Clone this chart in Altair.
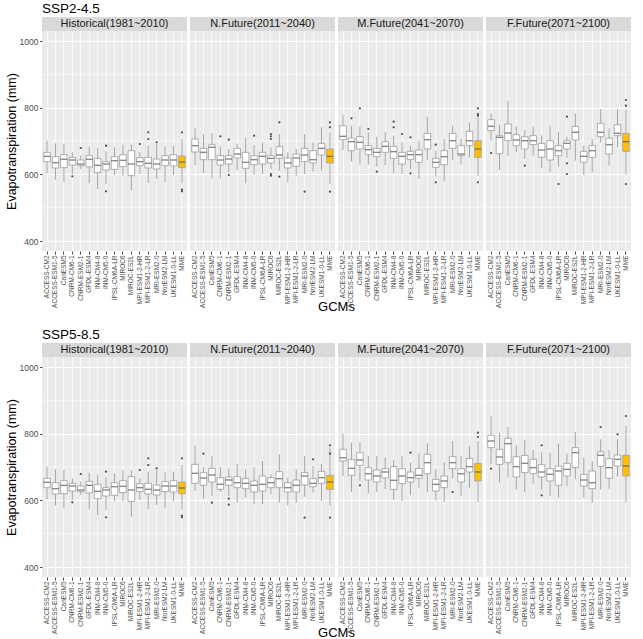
import altair as alt
import pandas as pd

# Models on the x axis (MME = multi-model ensemble)
GCMS = ["ACCESS-CM2", "ACCESS-ESM1-5", "CanESM5", "CNRM-CM6-1", "CNRM-ESM2-1",
        "GFDL-ESM4", "INM-CM4-8", "INM-CM5-0", "IPSL-CM6A-LR", "MIROC6",
        "MIROC-ES2L", "MPI-ESM1-2-HR", "MPI-ESM1-2-LR", "MRI-ESM2-0",
        "NorESM2-LM", "UKESM1-0-LL", "MME"]

PERIODS = ["Historical(1981~2010)", "N.Future(2011~2040)",
           "M.Future(2041~2070)", "F.Future(2071~2100)"]

# Box statistics per model: (lower whisker, Q1, median, Q3, upper whisker), mm
HIST = [(603, 638, 654, 666, 701), (584, 619, 635, 653, 693), (576, 620, 645, 659, 691),
        (601, 628, 643, 651, 666), (616, 626, 631, 643, 656), (573, 622, 645, 657, 683),
        (556, 605, 627, 648, 678), (571, 613, 631, 638, 669), (598, 615, 641, 653, 681),
        (597, 623, 642, 659, 689), (551, 596, 631, 671, 689), (601, 626, 638, 650, 666),
        (574, 619, 633, 651, 686), (586, 616, 631, 646, 691), (576, 626, 643, 656, 684),
        (598, 625, 643, 659, 686), (573, 620, 637, 655, 706)]
HIST_OUT = [(3, 594), (4, 679), (7, 686), (7, 549), (11, 691), (12, 726), (12, 706),
            (13, 696), (16, 726), (16, 554), (16, 549)]

SSP245_NF = [(628, 667, 686, 706, 738), (604, 644, 666, 678, 721), (588, 644, 681, 689, 724),
             (588, 628, 643, 656, 684), (606, 631, 646, 656, 676), (613, 649, 661, 678, 691),
             (573, 618, 636, 666, 711), (598, 629, 644, 656, 688), (601, 631, 654, 666, 696),
             (616, 634, 648, 656, 681), (611, 648, 658, 683, 721), (576, 619, 634, 649, 666),
             (596, 624, 649, 661, 676), (601, 638, 658, 678, 721), (608, 634, 644, 671, 696),
             (611, 658, 678, 693, 741), (571, 634, 654, 676, 726)]
SSP245_NF_OUT = [(3, 714), (4, 704), (4, 598), (7, 716), (9, 721), (9, 714), (9, 706),
                 (9, 601), (9, 596), (10, 756), (10, 593), (13, 548), (16, 756), (16, 741),
                 (16, 548)]

SSP245_MF = [(673, 704, 714, 746, 779), (639, 671, 698, 709, 746), (629, 676, 696, 713, 743),
             (629, 659, 674, 686, 726), (623, 653, 666, 678, 713), (628, 666, 684, 698, 728),
             (603, 648, 668, 684, 716), (601, 631, 654, 666, 696), (616, 645, 659, 669, 686),
             (586, 636, 659, 673, 701), (644, 676, 704, 723, 773), (593, 621, 636, 648, 671),
             (579, 629, 653, 671, 706), (643, 678, 701, 723, 746), (629, 656, 661, 686, 706),
             (651, 686, 701, 729, 756), (596, 651, 676, 701, 771)]
SSP245_MF_OUT = [(1, 768), (2, 798), (3, 736), (4, 608), (6, 758), (6, 741), (7, 721),
                 (8, 711), (8, 603), (11, 689), (11, 576), (16, 798), (16, 781), (16, 776),
                 (16, 576)]

SSP245_FF = [(701, 731, 744, 764, 783), (613, 662, 711, 716, 749), (656, 701, 724, 751, 821),
             (666, 686, 703, 719, 743), (646, 676, 701, 713, 733), (656, 689, 701, 716, 743),
             (619, 651, 673, 693, 716), (606, 643, 676, 701, 746), (623, 656, 671, 686, 726),
             (649, 676, 693, 701, 713), (641, 703, 726, 744, 783), (598, 636, 654, 669, 686),
             (606, 651, 671, 686, 706), (696, 713, 726, 753, 796), (626, 661, 689, 709, 738),
             (681, 716, 723, 749, 796), (599, 669, 698, 723, 793)]
SSP245_FF_OUT = [(0, 664), (4, 626), (8, 571), (9, 773), (9, 633), (9, 601),
                 (16, 823), (16, 806), (16, 571)]

SSP585_NF = [(628, 651, 681, 708, 765), (605, 645, 667, 683, 700), (613, 655, 676, 696, 733),
             (625, 633, 648, 668, 700), (613, 645, 661, 670, 696), (593, 638, 653, 671, 710),
             (608, 635, 651, 665, 693), (588, 625, 645, 658, 700), (588, 628, 648, 673, 718),
             (618, 638, 653, 668, 678), (593, 638, 665, 686, 738), (585, 625, 638, 653, 668),
             (593, 625, 645, 661, 693), (611, 646, 673, 683, 733), (623, 641, 651, 665, 703),
             (598, 651, 668, 687, 710), (583, 633, 655, 675, 758)]
SSP585_NF_OUT = [(1, 740), (2, 593), (4, 605), (4, 587), (13, 548), (14, 723),
                 (16, 765), (16, 740), (16, 548)]

SSP585_MF = [(673, 718, 728, 753, 800), (625, 675, 696, 723, 773), (658, 705, 721, 743, 775),
             (621, 661, 680, 698, 733), (625, 655, 673, 691, 733), (633, 667, 685, 695, 728),
             (601, 633, 660, 701, 720), (598, 650, 673, 695, 733), (615, 655, 668, 685, 713),
             (638, 666, 675, 696, 741), (625, 680, 713, 738, 771), (600, 628, 648, 663, 693),
             (595, 638, 658, 673, 715), (665, 695, 713, 731, 778), (613, 655, 680, 695, 733),
             (638, 685, 701, 726, 763), (595, 658, 685, 711, 778)]
SSP585_MF_OUT = [(2, 645), (8, 743), (13, 625), (16, 803), (16, 790)]

SSP585_FF = [(708, 758, 778, 795, 853), (653, 708, 730, 753, 803), (668, 713, 770, 786, 820),
             (633, 670, 701, 731, 765), (625, 683, 711, 735, 781), (648, 680, 698, 723, 751),
             (631, 670, 685, 707, 746), (613, 658, 678, 695, 743), (608, 645, 688, 703, 771),
             (643, 673, 693, 711, 741), (663, 698, 743, 758, 805), (608, 643, 661, 678, 728),
             (593, 635, 653, 688, 718), (633, 701, 735, 746, 783), (635, 666, 698, 725, 751),
             (671, 703, 723, 736, 783), (593, 673, 703, 735, 823)]
SSP585_FF_OUT = [(0, 695), (6, 765), (6, 615), (13, 820), (15, 798), (16, 853)]

SCENARIOS = [
    ("SSP2-4.5", [(HIST, HIST_OUT), (SSP245_NF, SSP245_NF_OUT),
                  (SSP245_MF, SSP245_MF_OUT), (SSP245_FF, SSP245_FF_OUT)]),
    ("SSP5-8.5", [(HIST, HIST_OUT), (SSP585_NF, SSP585_NF_OUT),
                  (SSP585_MF, SSP585_MF_OUT), (SSP585_FF, SSP585_FF_OUT)]),
]

W, H = 145, 220
Y_DOMAIN = [370, 1030]
FONT = "Liberation Sans"
BOX_FILL, MME_FILL = "#ffffff", "#ffc000"
LINE_GREY = "#a6a6a6"


def box_frame(stats):
    return pd.DataFrame([
        dict(gcm=g, lo=lo, q1=q1, med=md, q3=q3, hi=hi,
             fill=MME_FILL if g == "MME" else BOX_FILL)
        for g, (lo, q1, md, q3, hi) in zip(GCMS, stats)
    ])


def outlier_frame(outs):
    return pd.DataFrame({"gcm": [GCMS[i] for i, _ in outs], "value": [v for _, v in outs]})


def panel(stats, outs, period, col, scenario):
    x_axis = alt.Axis(title=None, labelAngle=-90, labelFontSize=6.5, labelColor="#4d4d4d",
                      labelFont=FONT, labelPadding=1, labelOverlap=False, tickColor="#4d4d4d",
                      tickSize=3, domain=False, grid=True, gridColor="white", gridWidth=0.7,
                      bandPosition=0.5)
    xenc = alt.X("gcm:N", sort=GCMS, axis=x_axis,
                 scale=alt.Scale(domain=GCMS, paddingInner=0, paddingOuter=0.1))
    if col == 0:
        y_axis = alt.Axis(values=[400, 600, 800, 1000], format="d",
                          title="Evapotranspiration (mm)",
                          titleFontSize=12.5, titleFont=FONT, titleFontWeight="normal",
                          titleColor="black", titlePadding=1, labelFontSize=8.5, labelFont=FONT,
                          labelColor="#4d4d4d", tickColor="#4d4d4d", tickSize=2.5,
                          labelPadding=1.5, domain=False, grid=True, gridColor="white",
                          gridWidth=1)
    else:
        y_axis = alt.Axis(values=[400, 600, 800, 1000], title=None, labels=False, ticks=False,
                          domain=False, grid=True, gridColor="white", gridWidth=1)

    def yenc(field):
        return alt.Y(f"{field}:Q", axis=y_axis,
                     scale=alt.Scale(domain=Y_DOMAIN, nice=False, zero=False))

    boxes = box_frame(stats)
    base = alt.Chart(boxes)

    minor = alt.Chart(pd.DataFrame({"v": [500, 700, 900]})).mark_rule(
        color="white", strokeWidth=0.5).encode(y=yenc("v"))
    whisk = base.mark_rule(color=LINE_GREY, strokeWidth=1).encode(
        x=xenc, y=yenc("lo"), y2="hi")
    box = base.mark_bar(size=6.6, stroke=LINE_GREY, strokeWidth=0.9).encode(
        x=xenc, y=yenc("q1"), y2="q3", fill=alt.Fill("fill:N", scale=None))
    median = base.mark_tick(color="#595959", thickness=1.4, size=6.6).encode(
        x=xenc, y=yenc("med"))
    pts = alt.Chart(outlier_frame(outs)).mark_circle(size=5, color="#4d4d4d", opacity=1).encode(
        x=xenc, y=yenc("value"))

    lab = alt.Chart(pd.DataFrame({"t": [period]}))
    strip = lab.mark_rect(color="#d9d9d9").encode(
        x=alt.value(0), x2=alt.value(W), y=alt.value(-14), y2=alt.value(0))
    strip_txt = lab.mark_text(fontSize=11, font=FONT, color="#1a1a1a", baseline="middle").encode(
        x=alt.value(W / 2), y=alt.value(-7), text="t:N")

    layers = [minor, whisk, box, median, pts, strip, strip_txt]
    if col == 0:
        head = alt.Chart(pd.DataFrame({"t": [scenario]})).mark_text(
            fontSize=13.5, font=FONT, color="black", align="left", baseline="middle").encode(
            x=alt.value(0), y=alt.value(-22), text="t:N")
        layers.append(head)
    if col == 1:
        xt = alt.Chart(pd.DataFrame({"t": ["GCMs"]})).mark_text(
            fontSize=13, font=FONT, color="black", align="center", baseline="middle").encode(
            x=alt.value(W + 1.5), y=alt.value(H + 56), text="t:N")
        layers.append(xt)
    return alt.layer(*layers).properties(width=W, height=H)


rows = []
for scenario, panels in SCENARIOS:
    cells = [panel(s, o, PERIODS[i], i, scenario) for i, (s, o) in enumerate(panels)]
    rows.append(alt.hconcat(*cells, spacing=3, bounds="flush"))

chart = alt.vconcat(*rows, spacing=14).properties(
    padding={"left": 5, "top": 2, "right": 4, "bottom": 0},
    background="white",
).configure_view(fill="#ebebeb", stroke=None)

chart.save("out.html", embed_options={"renderer": "svg", "actions": False})
